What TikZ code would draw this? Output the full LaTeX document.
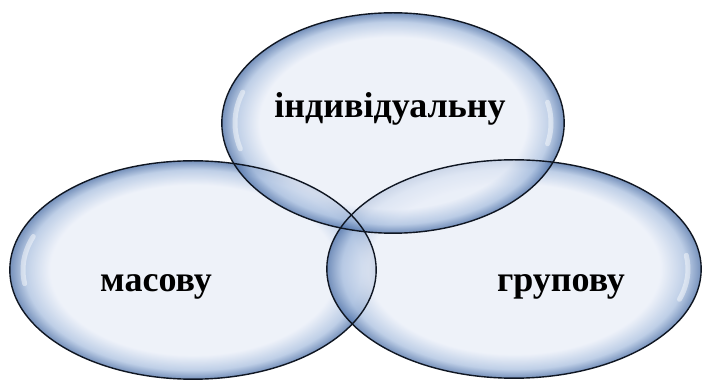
\documentclass[tikz,border=0pt]{standalone}
\usepackage{fontspec}
\setmainfont{Liberation Serif}
\usetikzlibrary{shapes.geometric,calc}
\definecolor{bubin}{HTML}{E9EEF8}
\definecolor{bubmid}{HTML}{A9BFDF}
\definecolor{bubout}{HTML}{4A6EA6}
\definecolor{bubline}{HTML}{0F1622}
\pgfdeclareradialshading{bubble}{\pgfpoint{0bp}{0bp}}{%
  color(0bp)=(bubin); color(19.5bp)=(bubin); color(23bp)=(bubmid);
  color(25bp)=(bubout); color(50bp)=(bubout)}

\begin{document}
\begin{tikzpicture}[x=1pt,y=1pt,
    bubblenode/.style={ellipse,shading=bubble,fill opacity=0.75,inner sep=0pt},
    glint/.style={white,opacity=0.45,line width=5pt,line cap=round},
    lbl/.style={anchor=base,font=\fontsize{36}{40}\selectfont\bfseries,text=black}]
  % canvas
  \fill[white] (0,0) rectangle (705,380);
  \useasboundingbox (0,0) rectangle (705,380);

  % three bubbles
  \node[bubblenode,minimum width=366,minimum height=218] (mass) at (193,110) {};
  \node[bubblenode,minimum width=374,minimum height=218] (group) at (514,111) {};
  \node[bubblenode,minimum width=342,minimum height=220] (indiv) at (393,257) {};

  % glints
  \draw[glint] ([shift={(mass.center)}]160:170 and 98) arc[start angle=160,end angle=188,x radius=170,y radius=98];
  \draw[glint] ([shift={(group.center)}]-18:174 and 98) arc[start angle=-18,end angle=8,x radius=174,y radius=98];
  \draw[glint] ([shift={(indiv.center)}]162:158 and 100) arc[start angle=162,end angle=195,x radius=158,y radius=100];
  \draw[glint] ([shift={(indiv.center)}]-12:158 and 100) arc[start angle=-12,end angle=12,x radius=158,y radius=100];

  % outlines on top
  \foreach \b in {mass,group,indiv} {
    \draw[bubline,line width=1.4pt] let \p1=($(\b.east)-(\b.center)$), \p2=($(\b.north)-(\b.center)$)
      in (\b.center) ellipse [x radius=\x1,y radius=\y2];
  }

  % labels
  \node[lbl] (indivtext) at (390,262) {індивідуальну};
  \node[lbl] (masstext) at (156,88) {масову};
  \node[lbl] (grouptext) at (561,88) {групову};
\end{tikzpicture}
\end{document}
